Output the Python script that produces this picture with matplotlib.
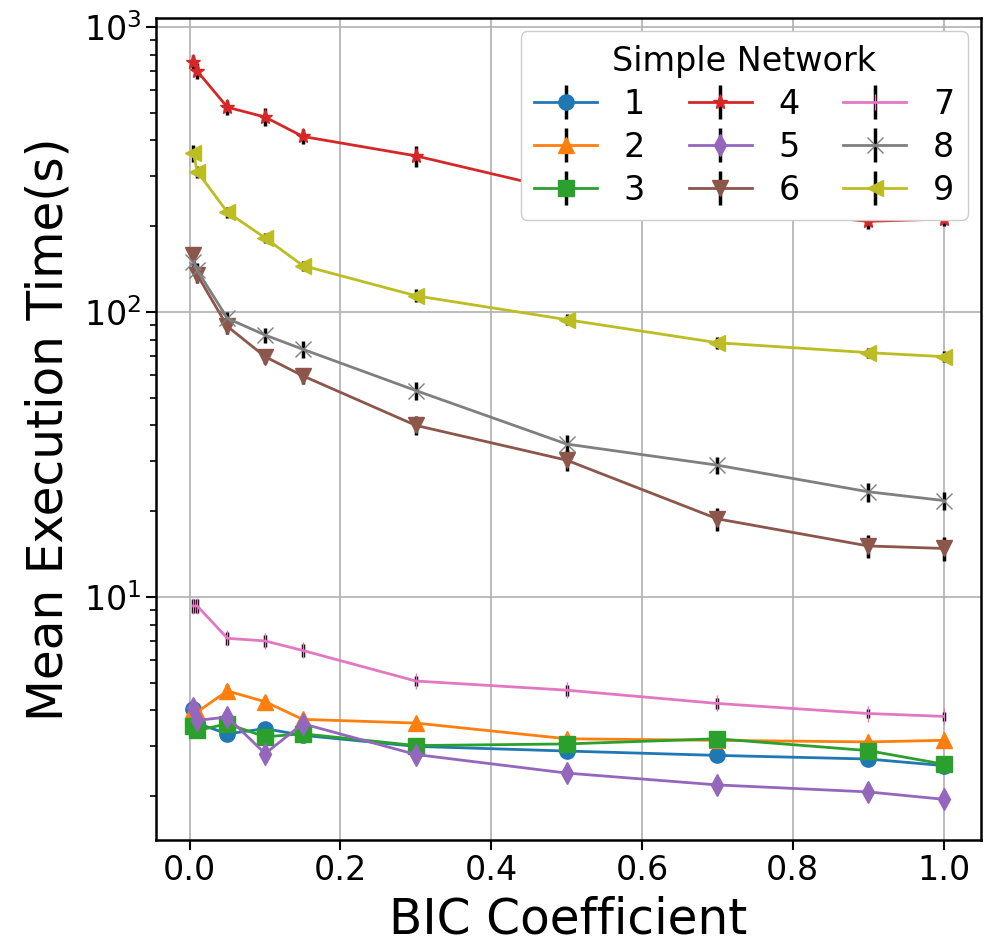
import matplotlib
matplotlib.use("Agg")
from matplotlib import pyplot as plt

# BIC coefficients tested
bic = [0.005, 0.01, 0.05, 0.1, 0.15, 0.3, 0.5, 0.7, 0.9, 1.0]

# mean execution time (s) per network
net1 = [4.04, 3.6, 3.31, 3.45, 3.27, 2.99, 2.88, 2.78, 2.70, 2.56]
net2 = [4.0, 3.95, 4.68, 4.29, 3.72, 3.61, 3.18, 3.14, 3.10, 3.14]
net3 = [3.52, 3.40, 3.59, 3.23, 3.31, 3.01, 3.05, 3.18, 2.89, 2.59]
net4 = [755, 700, 523, 483, 413, 353, 265, 235, 208, 212]
net5 = [4.09, 3.69, 3.79, 2.82, 3.59, 2.80, 2.41, 2.19, 2.07, 1.95]
net6 = [158, 135, 89, 69.7, 59.7, 40, 30.2, 18.8, 15.1, 14.8]
net7 = [9.3, 9.3, 7.16, 7.01, 6.49, 5.07, 4.71, 4.23, 3.90, 3.81]
net8 = [150, 140, 95, 83, 74, 53, 34.4, 29, 23.4, 21.8]
net9 = [361, 311, 224, 182, 145.5, 114, 94, 78, 72, 69.7]

# standard deviations (rough)
err1 = [0.15, 0.12, 0.12, 0.12, 0.1, 0.08, 0.08, 0.08, 0.08, 0.07]
err2 = [0.2, 0.15, 0.25, 0.2, 0.12, 0.1, 0.08, 0.08, 0.08, 0.08]
err3 = [0.12, 0.12, 0.12, 0.1, 0.1, 0.08, 0.08, 0.1, 0.08, 0.07]
err4 = [40, 45, 30, 35, 25, 30, 20, 15, 12, 12]
err5 = [0.15, 0.12, 0.12, 0.1, 0.1, 0.08, 0.07, 0.06, 0.06, 0.05]
err6 = [8, 9, 5, 4, 4, 3, 2.5, 1.8, 1.4, 1.4]
err7 = [0.5, 0.5, 0.35, 0.35, 0.35, 0.2, 0.2, 0.2, 0.15, 0.15]
err8 = [8, 8, 5, 5, 5, 4, 2.5, 2, 1.8, 1.6]
err9 = [25, 15, 10, 8, 6, 6, 4, 4, 3, 3]

series = [net1, net2, net3, net4, net5, net6, net7, net8, net9]
errors = [err1, err2, err3, err4, err5, err6, err7, err8, err9]
names = ['1', '2', '3', '4', '5', '6', '7', '8', '9']
markers = ['o', '^', 's', '*', 'd', 'v', '|', 'x', '<']

fig = plt.figure(figsize=(9.84, 9.49), dpi=100)
ax = fig.add_axes([0.1585, 0.115, 0.8385, 0.866])

for i in range(len(series)):
    ax.errorbar(bic, series[i], yerr=errors[i], marker=markers[i],
                markersize=11, linewidth=2, ecolor='black', elinewidth=2.5,
                capsize=0, label=names[i], color=f'C{i}')

ax.set_yscale('log')
ax.set_xlabel('BIC Coefficient', fontsize=35, labelpad=6)
ax.set_ylabel('Mean Execution Time(s)', fontsize=35, labelpad=8)
ax.tick_params(labelsize=24, width=1.5, length=7)
ax.tick_params(which='minor', width=1.2, length=4)
ax.grid(True, which='major', linewidth=1.2)
for s in ax.spines.values():
    s.set_linewidth(1.8)

ax.legend(title='Simple Network', ncol=3, loc='upper right',
          fontsize=24, title_fontsize=24, handlelength=1.9,
          columnspacing=1.3, labelspacing=0.3, borderaxespad=0.4,
          framealpha=1)

fig.savefig('out.png', dpi=100)
